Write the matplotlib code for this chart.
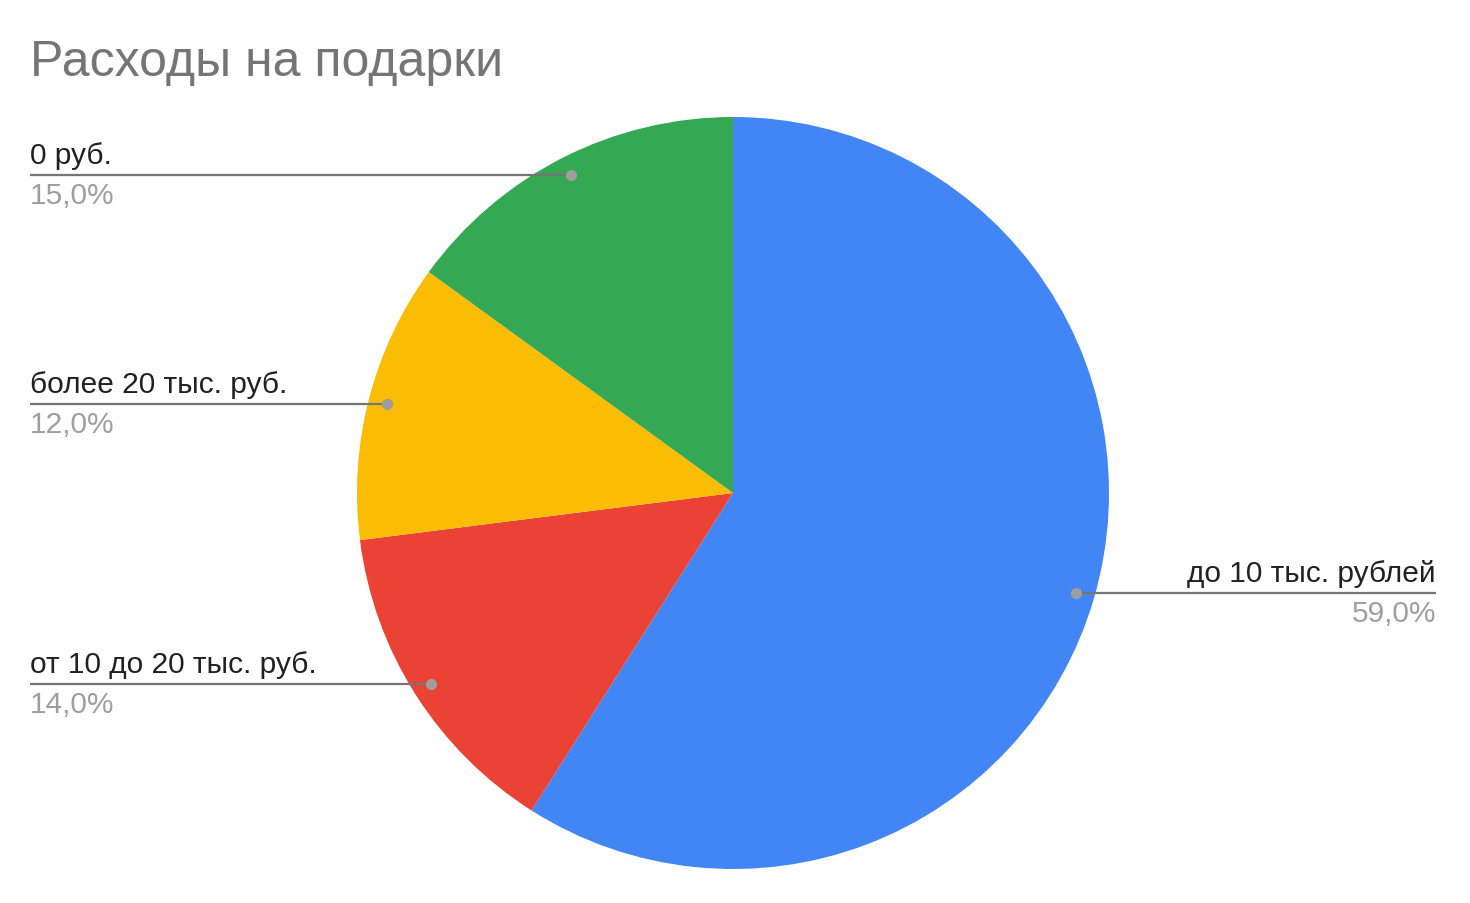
import matplotlib
matplotlib.use("Agg")
import matplotlib.pyplot as plt
import numpy as np

plt.rcParams['font.family'] = ['Liberation Sans', 'DejaVu Sans']

title = "Расходы на подарки"
categories = ["до 10 тыс. рублей", "от 10 до 20 тыс. руб.", "более 20 тыс. руб.", "0 руб."]
values = [59.0, 14.0, 12.0, 15.0]
pct_labels = ["59,0%", "14,0%", "12,0%", "15,0%"]
colors = ["#4285F4", "#EA4335", "#FBBC04", "#34A853"]

W, H = 1470, 904
fig = plt.figure(figsize=(W / 100, H / 100), dpi=100)
ax = fig.add_axes([0, 0, 1, 1])
ax.set_xlim(0, W)
ax.set_ylim(0, H)
ax.set_aspect('equal')
ax.axis('off')

cx, cy, r = 733, H - 494, 376
ax.pie(values, colors=colors, startangle=90, counterclock=False,
       center=(cx, cy), radius=r, wedgeprops=dict(linewidth=0))
ax.set_xlim(0, W)
ax.set_ylim(0, H)

fig.text(30 / W, 1 - 76 / H, title, fontsize=36, color="#757575",
         ha='left', va='baseline')

total = sum(values)
cum = 0.0
for cat, v, pl in zip(categories, values, pct_labels):
    mid = cum + v / 2
    cum += v
    ang = np.deg2rad(90 - 360 * mid / total)
    px = cx + 0.95 * r * np.cos(ang)
    py = cy + 0.95 * r * np.sin(ang)
    if np.cos(ang) > 0:
        xend = 1436
        ha = 'right'
    else:
        xend = 30
        ha = 'left'
    ax.plot([px, xend], [py, py], color="#757575", lw=1.6, solid_capstyle='butt', zorder=3)
    ax.plot([px], [py], 'o', color="#9E9E9E", markersize=7, zorder=4)
    ax.text(xend, py + 12, cat, fontsize=21.5, color="#212121", ha=ha, va='baseline')
    ax.text(xend, py - 28, pl, fontsize=21.5, color="#9E9E9E", ha=ha, va='baseline')

fig.savefig("out.png", dpi=100, facecolor="white")
